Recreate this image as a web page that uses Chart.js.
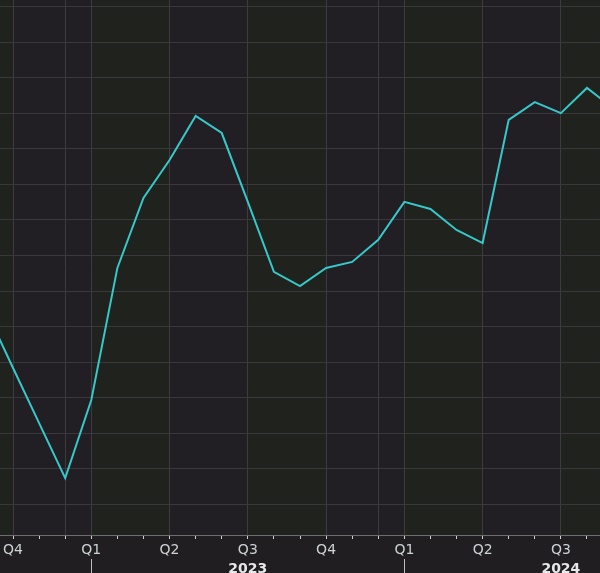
<!DOCTYPE html>
<html>
<head>
<meta charset="utf-8">
<script src="https://cdn.jsdelivr.net/npm/chart.js@4.4.1/dist/chart.umd.min.js"></script>
<style>
  html, body { margin: 0; padding: 0; background: #211e22; }
  canvas { display: block; }
</style>
</head>
<body>
<canvas id="c" width="600" height="573"></canvas>
<script>
// Months: index 0 = Oct 2022
const months = ['2022-09','2022-10','2022-11','2022-12','2023-01','2023-02','2023-03','2023-04','2023-05','2023-06','2023-07','2023-08','2023-09','2023-10','2023-11','2023-12','2024-01','2024-02','2024-03','2024-04','2024-05','2024-06','2024-07','2024-08','2024-09'];
const values = [5.4, 3.83, 2.28, 0.73, 2.93, 6.65, 8.62, 9.69, 10.93, 10.45, 8.51, 6.54, 6.14, 6.65, 6.82, 7.44, 8.51, 8.31, 7.72, 7.35, 10.82, 11.32, 11.01, 11.72, 11.15];
const years = ['2023', '2024'];
const yGridValues = [0, 1, 2, 3, 4, 5, 6, 7, 8, 9, 10, 11, 12, 13, 14];

const monthIndex = months.map((m, i) => i - 1);           // Oct 2022 -> 0
const monthOfYear = months.map(m => parseInt(m.slice(5, 7), 10) - 1); // 0 = Jan
const points = values.map((v, i) => ({ x: monthIndex[i], y: v }));

function moy(idx) { return ((idx + 9) % 12 + 12) % 12; } // month of year for index

const bgPlugin = {
  id: 'bg',
  beforeDraw(chart) {
    const ctx = chart.ctx, a = chart.chartArea, xs = chart.scales.x;
    ctx.save();
    ctx.fillStyle = '#211e22';
    ctx.fillRect(0, 0, chart.width, chart.height);
    ctx.beginPath();
    ctx.rect(a.left, a.top, a.right - a.left, a.bottom - a.top);
    ctx.clip();
    for (let q = -3; q <= 24; q += 3) {
      const qoy = Math.floor(moy(q) / 3); // 0..3
      ctx.fillStyle = (qoy % 2 === 0) ? '#1f221d' : '#221f24';
      const x0 = xs.getPixelForValue(q), x1 = xs.getPixelForValue(q + 3);
      ctx.fillRect(x0, a.top, x1 - x0, a.bottom - a.top);
    }
    ctx.restore();
  },
  afterDraw(chart) {
    const ctx = chart.ctx, xs = chart.scales.x;
    ctx.save();
    // year separators at January
    ctx.strokeStyle = '#bdbdbd';
    ctx.lineWidth = 1;
    monthIndex.forEach((idx, i) => {
      if (monthOfYear[i] === 0) {
        const x = Math.round(xs.getPixelForValue(idx)) + 0.5;
        ctx.beginPath();
        ctx.moveTo(x, 559);
        ctx.lineTo(x, 573);
        ctx.stroke();
      }
    });
    // year labels at mid-year (July)
    ctx.fillStyle = '#e6e8ea';
    ctx.font = 'bold 14px "DejaVu Sans"';
    ctx.textAlign = 'center';
    ctx.textBaseline = 'alphabetic';
    years.forEach(y => {
      const i = months.indexOf(y + '-07');
      if (i >= 0) ctx.fillText(y, xs.getPixelForValue(monthIndex[i]), 572.5);
    });
    ctx.restore();
  }
};

new Chart(document.getElementById('c'), {
  type: 'line',
  data: {
    datasets: [{
      data: points,
      borderColor: '#37c8ca',
      borderWidth: 2,
      pointRadius: 0,
      tension: 0,
      fill: false
    }]
  },
  options: {
    responsive: false,
    animation: false,
    devicePixelRatio: 1,
    layout: { padding: 0 },
    plugins: { legend: { display: false }, tooltip: { enabled: false } },
    scales: {
      x: {
        type: 'linear',
        min: -0.5,
        max: 22.5,
        afterBuildTicks(s) {
          s.ticks = monthIndex.filter(v => v >= s.min && v <= s.max).map(v => ({ value: v }));
        },
        afterFit(s) { s.height = 38; },
        ticks: {
          autoSkip: false,
          maxRotation: 0,
          padding: 3,
          color: '#cdd2d4',
          font: { family: 'DejaVu Sans', size: 14 },
          callback(v) {
            const m = moy(v);
            return m % 3 === 0 ? 'Q' + (m / 3 + 1) : '';
          }
        },
        grid: {
          color(c) {
            const v = c.tick ? c.tick.value : 0;
            const m = moy(v);
            return (m % 3 === 0 || m === 11) ? '#3d3b3e' : 'rgba(0,0,0,0)';
          },
          tickColor: '#d0d0d0',
          tickLength: 4,
          lineWidth: 1
        },
        border: { display: true, color: '#6e6e6e', width: 1 }
      },
      y: {
        type: 'linear',
        position: 'right',
        min: -0.873,
        max: 14.197,
        afterBuildTicks(s) { s.ticks = yGridValues.map(v => ({ value: v })); },
        afterFit(s) { s.width = 0; },
        ticks: { display: false },
        grid: { color: '#3a383b', lineWidth: 1, drawTicks: false },
        border: { display: false }
      }
    }
  },
  plugins: [bgPlugin]
});
</script>
</body>
</html>
